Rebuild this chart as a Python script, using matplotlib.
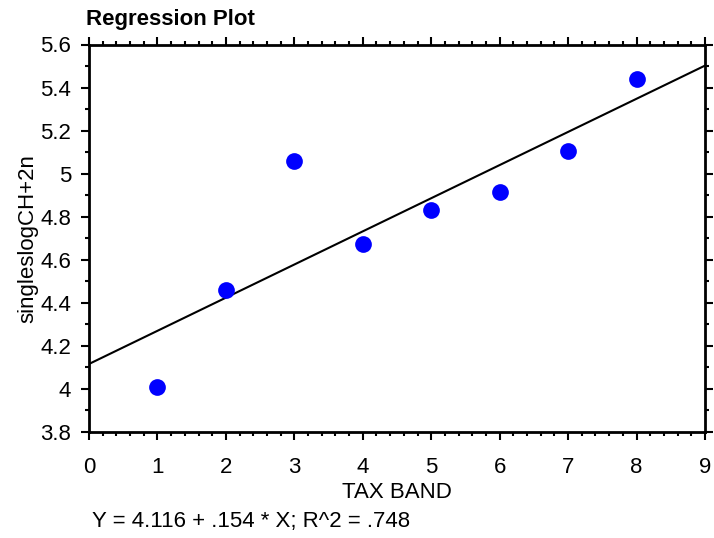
import matplotlib
matplotlib.use("Agg")
import matplotlib.pyplot as plt
from matplotlib.ticker import MultipleLocator
import numpy as np

tax_band = [1, 2, 3, 4, 5, 6, 7, 8]
singles_log = [4.01, 4.46, 5.06, 4.674, 4.833, 4.916, 5.107, 5.442]
intercept = 4.116
slope = 0.154
fit_x = [0, 9]
y_ticks = [3.8, 4.0, 4.2, 4.4, 4.6, 4.8, 5.0, 5.2, 5.4, 5.6]
y_tick_labels = ['3.8', '4', '4.2', '4.4', '4.6', '4.8', '5', '5.2', '5.4', '5.6']

plt.rcParams['font.family'] = ['Liberation Sans', 'DejaVu Sans']

fig = plt.figure(figsize=(7.14, 5.38), dpi=100)
ax = fig.add_axes([89/714, 1 - 432/538, (705-89)/714, (432-44.5)/538])

fx = np.array(fit_x, dtype=float)
ax.plot(fx, intercept + slope * fx, color='black', lw=1.5, zorder=2)
ax.scatter(tax_band, singles_log, s=145, color='#0000ff', zorder=3, linewidths=0)

ax.set_xlim(0, 9)
ax.set_ylim(3.8, 5.6)
ax.xaxis.set_major_locator(MultipleLocator(1))
ax.xaxis.set_minor_locator(MultipleLocator(0.2))
ax.yaxis.set_minor_locator(MultipleLocator(0.1))
ax.set_yticks(y_ticks)
ax.set_yticklabels(y_tick_labels)

for s in ax.spines.values():
    s.set_linewidth(2)
ax.tick_params(which='major', direction='out', length=6, width=1.5, labelsize=16,
               top=True, right=True, labeltop=False, labelright=False)
ax.tick_params(which='minor', direction='out', length=3, width=1.5,
               top=True, right=True)
ax.tick_params(axis='y', which='major', pad=7)
ax.tick_params(axis='x', which='major', pad=12)

ax.set_xlabel('TAX BAND', fontsize=16, labelpad=3)
ax.set_ylabel('singleslogCH+2n', fontsize=16, labelpad=1)

fig.text(86/714, 1 - 19/538, 'Regression Plot', fontsize=16, fontweight='bold',
         ha='left', va='center')
fig.text(92/714, 1 - 522/538, 'Y = 4.116 + .154 * X; R^2 = .748', fontsize=16,
         ha='left', va='center')

fig.savefig('out.png', dpi=100)
